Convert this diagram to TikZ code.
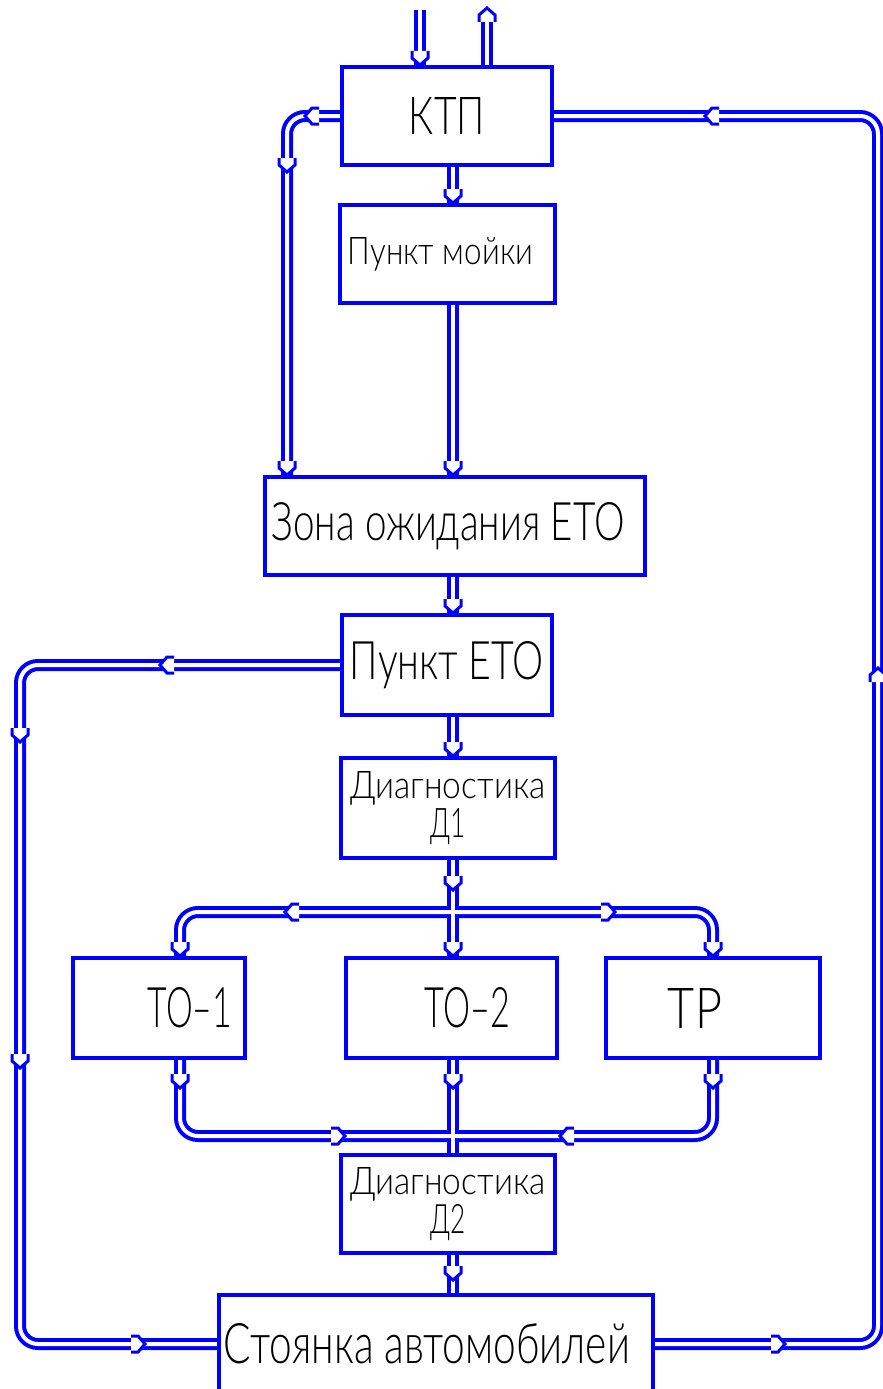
\documentclass[tikz,border=0pt]{standalone}
\usepackage{fontspec}
\setmainfont{Lato}[UprightFont={* Light}]
\usepackage{graphicx}
\definecolor{pblue}{RGB}{0,0,255}
\newcommand{\fitt}[3]{\resizebox{#1pt}{#2pt}{#3}}
\newcommand{\pipearr}[3]{\filldraw[parr,shift={(#1,#2)},rotate=#3] (-14,-8) -- (-7,-8) -- (0,0) -- (-7,8) -- (-14,8);}
\newcommand{\allpipes}[1]{%
  \draw[#1] (inTop) -- (inTop |- ktp.north);
  \draw[#1] (ktp.north -| outTop) -- (outTop);
  \draw[#1] (ktp.west) -| (zona.north -| lcol);
  \draw[#1] (ktp.south -| col) -- (moyka.north -| col);
  \draw[#1] (moyka.south -| col) -- (zona.north -| col);
  \draw[#1] (zona.south -| col) -- (eto.north -| col);
  \draw[#1] (eto.west) -| (llcol |- park.west) -- (park.west);
  \draw[#1] (ktp.east) -| (rcol |- park.east) -- (park.east);
  \draw[#1] (eto.south -| col) -- (d1.north -| col);
  \draw[#1] (d1.south -| col) -- (to2.north -| col);
  \draw[#1] (to1.north -| c1) |- (br -| c3) -- (tp.north -| c3);
  \draw[#1] (to1.south -| c1) |- (bc -| c3) -- (tp.south -| c3);
  \draw[#1] (to2.south -| col) -- (d2.north -| col);
  \draw[#1] (d2.south -| col) -- (park.north -| col);
}
\pgfdeclarelayer{paper}
\pgfdeclarelayer{pipeA}
\pgfdeclarelayer{pipeB}
\pgfsetlayers{paper,pipeA,pipeB,main}
\begin{document}
\begin{tikzpicture}[x=1pt,y=-1pt,
  pipeout/.style={draw=pblue,line width=12pt,rounded corners=18pt},
  pipein/.style={draw=white,line width=4pt,rounded corners=18pt},
  parr/.style={draw=pblue,fill=white,line width=3pt,line join=miter},
  box/.style={draw=pblue,fill=white,line width=4pt,inner sep=0pt,text=black},
  twoline/.style={box,align=center}]
\useasboundingbox (0,0) rectangle (883,1389);
\begin{pgfonlayer}{paper}
\fill[white] (0,0) rectangle (883,1389);
\end{pgfonlayer}
% named points for pipe routes
\coordinate (col) at (453,0);
\coordinate (lcol) at (287,0);
\coordinate (llcol) at (20,0);
\coordinate (rcol) at (878,0);
\coordinate (c1) at (180,0);
\coordinate (c3) at (713,0);
\coordinate (br) at (0,912);
\coordinate (bc) at (0,1136);
\coordinate (inTop) at (420,10);
\coordinate (outTop) at (487,18);
% boxes
\node[box,minimum width=210pt,minimum height=98pt] (ktp) at (447,116) {\fitt{76}{37}{КТП}};
\node[box,minimum width=215pt,minimum height=98pt] (moyka) at (447.5,254) {\hspace*{-14pt}\fitt{185}{27}{Пункт мойки}};
\node[box,minimum width=380pt,minimum height=98pt] (zona) at (455,526) {\hspace*{-14pt}\fitt{353}{38}{Зона ожидания ЕТО}};
\node[box,minimum width=210pt,minimum height=100pt] (eto) at (447,665) {\fitt{194}{38}{Пункт ЕТО}};
\node[twoline,minimum width=214pt,minimum height=100pt] (d1) at (448,808) {\fitt{195}{27}{Диагностика}\\[2pt]\fitt{35}{29}{Д1}};
\node[box,minimum width=172pt,minimum height=100pt] (to1) at (159,1008) {\hspace*{62pt}\fitt{84}{40}{ТО–1}};
\node[box,minimum width=211pt,minimum height=100pt] (to2) at (451.5,1008) {\hspace*{32pt}\fitt{85}{40}{ТО–2}};
\node[box,minimum width=214pt,minimum height=100pt] (tp) at (713,1008) {\hspace*{-36pt}\fitt{54}{40}{ТР}};
\node[twoline,minimum width=214pt,minimum height=98pt] (d2) at (448,1204) {\fitt{195}{27}{Диагностика}\\[2pt]\fitt{35}{29}{Д2}};
\node[box,minimum width=434pt,minimum height=98pt] (park) at (436,1344) {\hspace*{-18pt}\fitt{406}{40}{Стоянка автомобилей}};
% pipes: outer blue pass, then white core pass
\begin{pgfonlayer}{pipeA}
\allpipes{pipeout}
\end{pgfonlayer}
\begin{pgfonlayer}{pipeB}
\allpipes{pipein}
% flow marks
\pipearr{420}{65}{-90}
\pipearr{487}{8}{90}
\pipearr{305}{116}{180}
\pipearr{287}{172}{-90}
\pipearr{287}{475}{-90}
\pipearr{453}{203}{-90}
\pipearr{453}{475}{-90}
\pipearr{453}{613}{-90}
\pipearr{160}{665}{180}
\pipearr{20}{742}{-90}
\pipearr{20}{1068}{-90}
\pipearr{145}{1344}{0}
\pipearr{453}{756}{-90}
\pipearr{453}{890}{-90}
\pipearr{285}{912}{180}
\pipearr{615}{912}{0}
\pipearr{180}{956}{-90}
\pipearr{453}{956}{-90}
\pipearr{713}{956}{-90}
\pipearr{180}{1088}{-90}
\pipearr{453}{1088}{-90}
\pipearr{713}{1088}{-90}
\pipearr{345}{1136}{0}
\pipearr{560}{1136}{180}
\pipearr{453}{1280}{-90}
\pipearr{785}{1344}{0}
\pipearr{878}{668}{90}
\pipearr{705}{116}{180}
\end{pgfonlayer}
\end{tikzpicture}
\end{document}
